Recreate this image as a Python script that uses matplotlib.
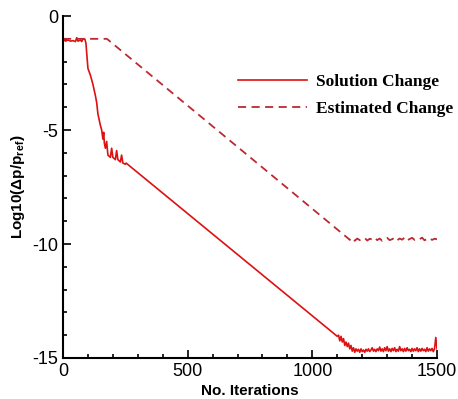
import matplotlib
matplotlib.use('Agg')
import matplotlib.pyplot as plt
from matplotlib.ticker import MultipleLocator
import numpy as np

# Solution change
sol_it = [0, 5, 10, 20, 30, 40, 50, 55, 60, 70, 75, 80, 88, 92, 97, 100, 110, 120, 130,
          135, 140, 150, 155, 160, 163, 166, 170, 175, 180, 190, 195, 200, 210, 215, 220,
          230, 235, 240, 250, 253, 1100]
sol_val = [-1.15, -1.0, -1.1, -1.05, -1.1, -1.08, -1.12, -0.95, -1.1, -1.05, -1.12, -1.0,
           -1.02, -1.2, -1.9, -2.3, -2.6, -3.0, -3.5, -3.8, -4.3, -4.8, -5.0, -5.4, -5.1,
           -5.6, -5.8, -5.5, -6.1, -6.2, -5.8, -6.2, -6.3, -5.9, -6.3, -6.4, -6.1, -6.45,
           -6.5, -6.45, -14.05]
sol_floor_it = [1105, 1110, 1115, 1120, 1125, 1130, 1135, 1140, 1145, 1150, 1155, 1160,
                1165, 1170, 1175, 1180, 1185, 1190, 1195, 1200, 1205, 1210, 1215, 1220,
                1225, 1230, 1235, 1240, 1245, 1250, 1255, 1260, 1265, 1270, 1275, 1280,
                1285, 1290, 1295, 1300, 1305, 1310, 1315, 1320, 1325, 1330, 1335, 1340,
                1345, 1350, 1355, 1360, 1365, 1370, 1375, 1380, 1385, 1390, 1395, 1400,
                1405, 1410, 1415, 1420, 1425, 1430, 1435, 1440, 1445, 1450, 1455, 1460,
                1465, 1470, 1475, 1480, 1485, 1490, 1495, 1500]
sol_floor_val = [-14.0, -14.25, -14.05, -14.3, -14.15, -14.45, -14.3, -14.5, -14.35, -14.6,
                 -14.45, -14.7, -14.55, -14.75, -14.6, -14.7, -14.62, -14.75, -14.6, -14.72,
                 -14.65, -14.75, -14.62, -14.7, -14.6, -14.72, -14.65, -14.55, -14.7, -14.62,
                 -14.72, -14.6, -14.68, -14.52, -14.7, -14.6, -14.72, -14.55, -14.68, -14.5,
                 -14.7, -14.6, -14.72, -14.58, -14.68, -14.55, -14.72, -14.62, -14.7, -14.5,
                 -14.68, -14.6, -14.72, -14.58, -14.7, -14.55, -14.68, -14.62, -14.72, -14.58,
                 -14.7, -14.6, -14.68, -14.55, -14.72, -14.6, -14.7, -14.58, -14.68, -14.62,
                 -14.72, -14.55, -14.7, -14.6, -14.68, -14.58, -14.72, -14.6, -14.1, -14.6]

# Estimated change
est_it = [0, 176, 1143, 1150, 1160, 1170, 1180, 1190, 1200, 1210, 1220, 1230, 1240, 1250,
          1260, 1270, 1280, 1290, 1300, 1310, 1320, 1330, 1340, 1350, 1360, 1370, 1380,
          1390, 1400, 1410, 1420, 1430, 1440, 1450, 1460, 1470, 1480, 1490, 1500]
est_val = [-1.0, -1.0, -9.75, -9.82, -9.72, -9.86, -9.76, -9.83, -9.78, -9.73, -9.85, -9.77,
           -9.8, -9.72, -9.83, -9.76, -9.86, -9.78, -9.73, -9.83, -9.79, -9.72, -9.84, -9.76,
           -9.81, -9.72, -9.85, -9.78, -9.73, -9.82, -9.76, -9.79, -9.72, -9.84, -9.77, -9.74,
           -9.82, -9.77, -9.79]

plt.rcParams['axes.unicode_minus'] = False
plt.rcParams['mathtext.fontset'] = 'custom'
plt.rcParams['mathtext.bf'] = 'Liberation Sans:bold'

fig = plt.figure(figsize=(4.58, 3.99), dpi=100)
ax = fig.add_axes([0.1376, 0.1028, 0.8166, 0.857])

ax.plot(sol_it + sol_floor_it, sol_val + sol_floor_val, color='#dd1111', lw=1.2,
        label='Solution Change')
ax.plot(est_it, est_val, color='#bb2a32', lw=1.3, ls=(0, (4.5, 3)),
        label='Estimated Change')

ax.set_xlim(0, 1500)
ax.set_ylim(-15, 0)
ax.xaxis.set_major_locator(MultipleLocator(500))
ax.xaxis.set_minor_locator(MultipleLocator(100))
ax.yaxis.set_major_locator(MultipleLocator(5))
ax.yaxis.set_minor_locator(MultipleLocator(1))
for s in ['top', 'right']:
    ax.spines[s].set_visible(False)
for s in ['left', 'bottom']:
    ax.spines[s].set_linewidth(1.5)
ax.tick_params(which='both', direction='in', width=1.2)
ax.tick_params(which='major', length=6, labelsize=13)
ax.tick_params(which='minor', length=3)
for lab in ax.get_xticklabels() + ax.get_yticklabels():
    lab.set_family('Liberation Sans')

ax.set_xlabel('No. Iterations', family='Liberation Sans', weight='bold', fontsize=11,
              labelpad=3)
ax.set_ylabel(r'Log10($\mathbf{\Delta}$p/p$_{\mathbf{ref}}$)', family='Liberation Sans',
              weight='bold', fontsize=11, labelpad=4)

ax.legend(loc='upper left', bbox_to_anchor=(0.468, 0.83), frameon=False,
          prop={'family': 'Liberation Serif', 'weight': 'bold', 'size': 12.5},
          handlelength=4.0, labelspacing=0.6, handletextpad=0.5,
          borderpad=0, borderaxespad=0)

fig.savefig('out.png', dpi=100)
